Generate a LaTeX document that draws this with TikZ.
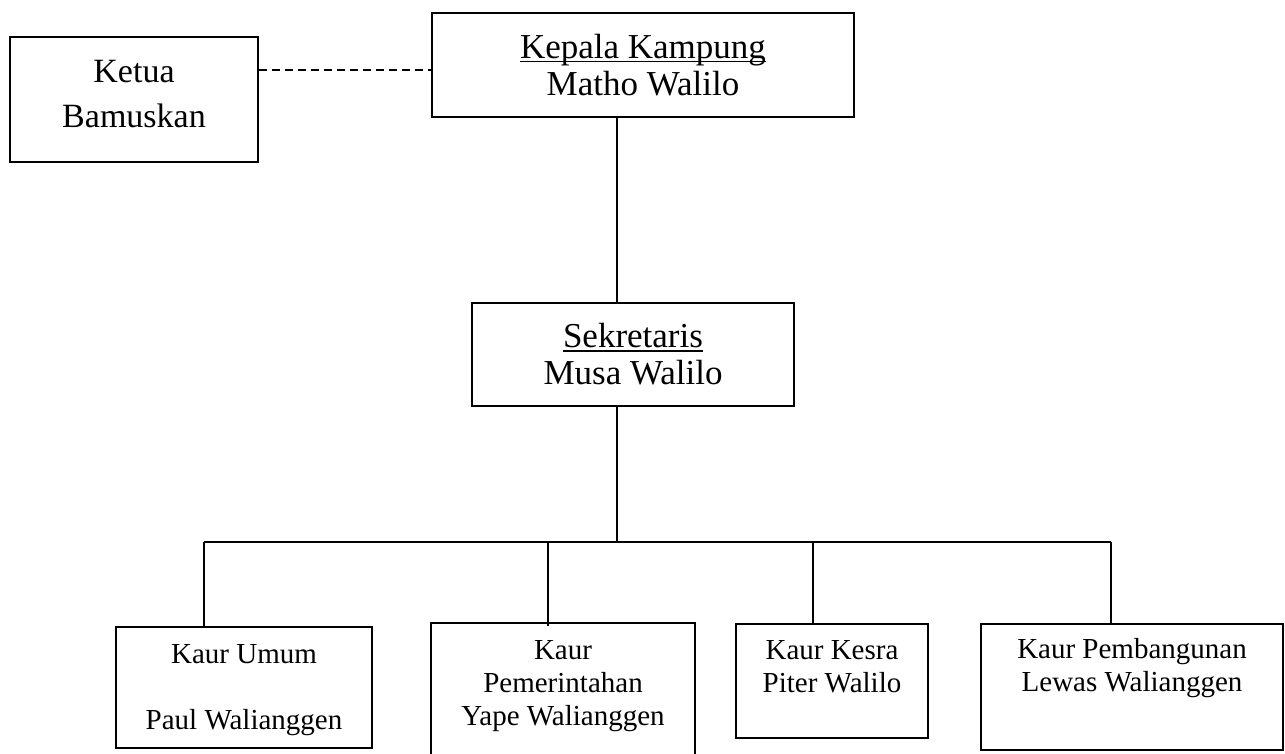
\documentclass[tikz,border=0pt]{standalone}
\usepackage{fontspec}
\setmainfont{Liberation Serif}
\usetikzlibrary{calc}

\newcommand{\ulined}[1]{\setbox0\hbox{#1}\rlap{\rule[-4pt]{\wd0}{1.5pt}}\box0}

\begin{document}
\begin{tikzpicture}[x=1pt,y=-1pt,
    box/.style={draw,line width=1.5pt,inner sep=0pt,align=center},
    headtxt/.style={font=\fontsize{35}{37}\selectfont},
    stafftxt/.style={font=\fontsize{29}{33}\selectfont,align=center,inner sep=0pt,anchor=north},
    link/.style={line width=1.3pt}]
        \clip (0,0) rectangle (1285,753);
        % pimpinan
        \node[box,font=\fontsize{34}{45}\selectfont,minimum width=248pt,minimum height=125pt] (ketua) at (134,99.5) {Ketua\\Bamuskan\\[-33pt]};
        \node[box,headtxt,minimum width=422pt,minimum height=104pt] (kepala) at (643,65) {\ulined{Kepala Kampung}\\Matho Walilo};
        \node[box,headtxt,minimum width=322pt,minimum height=103pt] (sekre) at (633,354.5) {\ulined{Sekretaris}\\Musa Walilo};
        % kaur
        \node[box,minimum width=256pt,minimum height=121pt] (umum) at (244,687.5) {};
        \node[box,minimum width=264pt,minimum height=150pt] (pemer) at (563,698) {};
        \node[box,minimum width=192pt,minimum height=114pt] (kesra) at (832,681) {};
        \node[box,minimum width=302pt,minimum height=126pt] (pemb) at (1132,687) {};
        \node[stafftxt] (umum-t) at ([yshift=-18pt]umum.north) {Kaur Umum\\[33pt]Paul Walianggen};
        \node[stafftxt] (pemer-t) at ([yshift=-18pt]pemer.north) {Kaur\\Pemerintahan\\Yape Walianggen};
        \node[stafftxt] (kesra-t) at ([yshift=-17pt]kesra.north) {Kaur Kesra\\Piter Walilo};
        \node[stafftxt] (pemb-t) at ([yshift=-15pt]pemb.north) {Kaur Pembangunan\\Lewas Walianggen};
        % garis
        \coordinate (dashlvl) at (0,70);
        \coordinate (trunk) at (617,542);
        \coordinate (bus1) at (204,542);
        \coordinate (bus2) at (548,542);
        \coordinate (bus3) at (813,542);
        \coordinate (bus4) at (1111,542);
        \draw[link,dash pattern=on 8pt off 5pt] (ketua.east |- dashlvl) -- (kepala.west |- dashlvl);
        \draw[link]
        (kepala.south -| trunk) -- (sekre.north -| trunk)
        (sekre.south -| trunk) -- (trunk)
        (bus1) -- (bus4)
        (bus1) -- (bus1 |- umum.north)
        (bus2) -- ([yshift=-4pt]bus2 |- pemer.north)
        (bus3) -- (bus3 |- kesra.north)
        (bus4) -- (bus4 |- pemb.north);
      \end{tikzpicture}
\end{document}
